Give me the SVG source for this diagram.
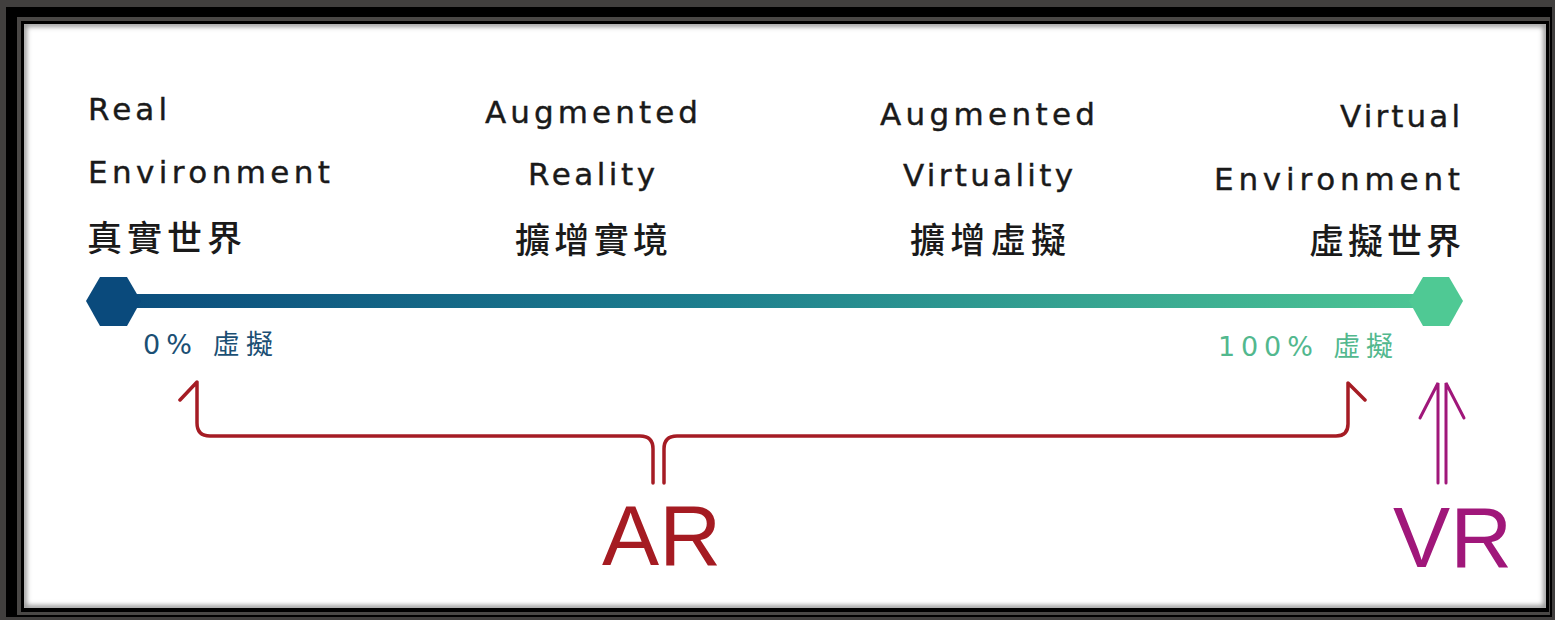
<svg xmlns="http://www.w3.org/2000/svg" width="1555" height="620" viewBox="0 0 1555 620">
  <defs>
    <style>
      .en { font-family: "DejaVu Sans", "Liberation Sans", sans-serif; font-size: 31px; fill: #1a1a1a; stroke: #1a1a1a; stroke-width: 0.4; }
      .cjk { font-family: "Noto Sans CJK TC", "Noto Sans CJK SC", sans-serif; font-size: 35px; font-weight: 500; fill: #1a1a1a; }
      .pct { font-family: "DejaVu Sans", "Noto Sans CJK TC", sans-serif; font-size: 27px; }
      .ar { fill: none; stroke: #a51c24; stroke-width: 3.5; stroke-linejoin: round; stroke-linecap: round; }
      .vr { fill: none; stroke: #a0177a; stroke-width: 3; stroke-linecap: round; }
      .big { font-family: "Liberation Sans", Arial, sans-serif; font-size: 86px; }
    </style>
    <linearGradient id="bar" x1="87" y1="0" x2="1462" y2="0" gradientUnits="userSpaceOnUse">
      <stop offset="0" stop-color="#0a4a7c"/>
      <stop offset="0.45" stop-color="#1d7e8e"/>
      <stop offset="1" stop-color="#4fc994"/>
    </linearGradient>
    <filter id="blur" x="-5%" y="-5%" width="110%" height="110%">
      <feGaussianBlur stdDeviation="2.5"/>
    </filter>
    <clipPath id="panel">
      <rect x="24" y="24" width="1522" height="584"/>
    </clipPath>
  </defs>

  <!-- frame -->
  <rect x="0" y="0" width="1555" height="620" fill="#413f3e"/>
  <rect x="6" y="7" width="1546" height="610" fill="#000"/>
  <rect x="17" y="17" width="1533" height="598" fill="#4a4846"/>
  <rect x="21" y="21" width="1528" height="591" fill="#000"/>
  <rect x="24" y="24" width="1522" height="584" fill="#fff"/>
  <rect x="24" y="24" width="1522" height="584" fill="none" stroke="#8a8a8a" stroke-width="5" filter="url(#blur)" clip-path="url(#panel)"/>

  <!-- labels -->
  <g id="real-environment">
    <text class="en" x="88" y="120" textLength="79" lengthAdjust="spacing">Real</text>
    <text class="en" x="88" y="183" textLength="242" lengthAdjust="spacing">Environment</text>
    <text class="cjk" x="87" y="251" textLength="155" lengthAdjust="spacing">真實世界</text>
  </g>
  <g id="augmented-reality">
    <text class="en" x="485" y="123" textLength="213" lengthAdjust="spacing">Augmented</text>
    <text class="en" x="528" y="185" textLength="127" lengthAdjust="spacing">Reality</text>
    <text class="cjk" x="515" y="253" textLength="153" lengthAdjust="spacing">擴增實境</text>
  </g>
  <g id="augmented-virtuality">
    <text class="en" x="880" y="125" textLength="215" lengthAdjust="spacing">Augmented</text>
    <text class="en" x="903" y="186" textLength="170" lengthAdjust="spacing">Virtuality</text>
    <text class="cjk" x="910" y="253" textLength="156" lengthAdjust="spacing">擴增虛擬</text>
  </g>
  <g id="virtual-environment">
    <text class="en" x="1340" y="127" textLength="120" lengthAdjust="spacing">Virtual</text>
    <text class="en" x="1214" y="190" textLength="246" lengthAdjust="spacing">Environment</text>
    <text class="cjk" x="1309" y="254" textLength="152" lengthAdjust="spacing">虛擬世界</text>
  </g>

  <!-- continuum bar -->
  <g id="continuum">
    <rect x="113" y="294" width="1323" height="14" fill="url(#bar)"/>
    <polygon points="86,301 100,277 127,277 141,301 127,326 100,326" fill="#0a4a7c"/>
    <polygon points="1409,301 1423,277 1449,277 1463,301 1449,326 1423,326" fill="#4fc994"/>
    <text class="pct" x="143" y="354" textLength="130" lengthAdjust="spacing" fill="#1b4f74">0% 虛擬</text>
    <text class="pct" x="1218" y="356" textLength="175" lengthAdjust="spacing" fill="#52b88e">100% 虛擬</text>
  </g>

  <!-- connectors -->
  <g id="connectors">
    <path class="ar" d="M180,400 L197,382 L197,423 Q197,436 210,436 L640,436 Q653,436 653,449 L653,483"/>
    <path class="ar" d="M1365,400 L1348,383 L1348,424 Q1348,436 1336,436 L677,436 Q664,436 664,449 L664,483"/>
    <path class="vr" d="M1420,418 L1438,383 L1438,483"/>
    <path class="vr" d="M1464,418 L1446,383 L1446,483"/>
  </g>

  <g id="ar-label">
    <text class="big" x="602" y="565" textLength="119" lengthAdjust="spacingAndGlyphs" fill="#a51b22">AR</text>
  </g>
  <g id="vr-label">
    <text class="big" x="1393" y="567" textLength="119" lengthAdjust="spacingAndGlyphs" fill="#a0177a">VR</text>
  </g>
</svg>
